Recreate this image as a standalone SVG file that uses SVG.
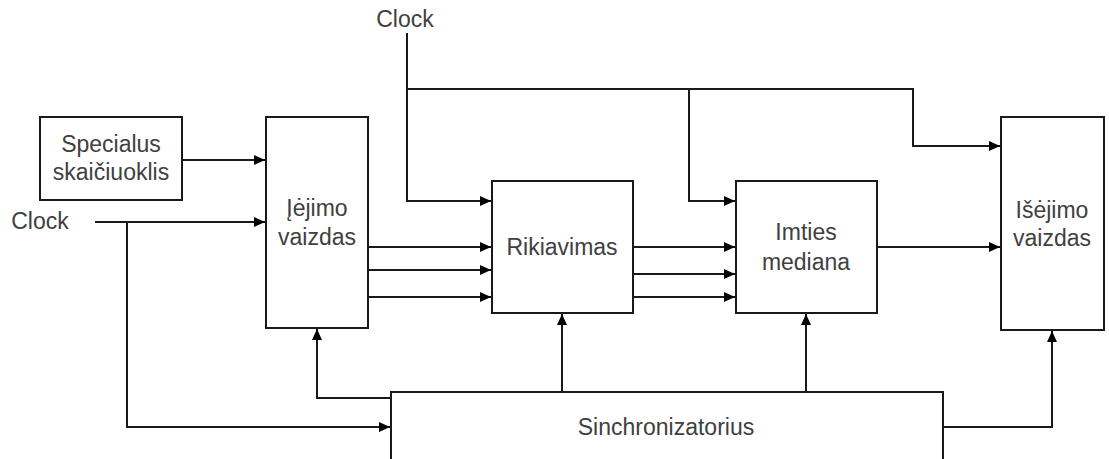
<svg xmlns="http://www.w3.org/2000/svg" width="1109" height="459" viewBox="0 0 1109 459">
  <style>
    .box { fill: #ffffff; stroke: #1a1a1a; stroke-width: 2; }
    .lbl { font-family: "Liberation Sans", Arial, sans-serif; font-size: 23px; fill: #404040; text-anchor: middle; }
    .wire { fill: none; stroke: #1a1a1a; stroke-width: 2; }
    .arr { marker-end: url(#head); }
  </style>
  <defs>
    <marker id="head" markerUnits="userSpaceOnUse" markerWidth="12" markerHeight="10" refX="11" refY="5" orient="auto">
      <path d="M0,0 L11,5 L0,10 Z" fill="#000"/>
    </marker>
  </defs>

  <rect width="1109" height="459" fill="#ffffff"/>

  <!-- connectors -->
  <g id="connectors">
    <path class="wire arr" d="M182,160 H265"/>
    <path class="wire arr" d="M95,222 H265"/>
    <path class="wire arr" d="M127,222 V427 H390"/>
    <path class="wire arr" d="M407,33 V201 H491"/>
    <path class="wire arr" d="M407,89 H913 V146 H1000"/>
    <path class="wire arr" d="M689,89 V201 H735"/>
    <path class="wire arr" d="M368,247 H491"/>
    <path class="wire arr" d="M368,270 H491"/>
    <path class="wire arr" d="M368,297 H491"/>
    <path class="wire arr" d="M633,247 H735"/>
    <path class="wire arr" d="M633,274 H735"/>
    <path class="wire arr" d="M633,297 H735"/>
    <path class="wire arr" d="M877,247 H1000"/>
    <path class="wire arr" d="M391,398 H317 V329"/>
    <path class="wire arr" d="M562,392 V314"/>
    <path class="wire arr" d="M806,392 V314"/>
    <path class="wire arr" d="M943,427 H1052 V331"/>
  </g>

  <!-- clock inputs -->
  <g id="clock-top">
    <text class="lbl" x="405" y="27">Clock</text>
  </g>
  <g id="clock-left">
    <text class="lbl" x="40" y="229">Clock</text>
  </g>

  <g id="specialus">
    <rect class="box" x="40" y="117" width="142" height="83"/>
    <text class="lbl" x="111" y="152">Specialus</text>
    <text class="lbl" x="111" y="180">skaičiuoklis</text>
  </g>

  <g id="iejimo">
    <rect class="box" x="266" y="117" width="102" height="211"/>
    <text class="lbl" x="317" y="216">Įėjimo</text>
    <text class="lbl" x="317" y="245">vaizdas</text>
  </g>

  <g id="rikiavimas">
    <rect class="box" x="492" y="181" width="141" height="132"/>
    <text class="lbl" x="562" y="255">Rikiavimas</text>
  </g>

  <g id="imties">
    <rect class="box" x="736" y="181" width="141" height="132"/>
    <text class="lbl" x="806" y="240">Imties</text>
    <text class="lbl" x="806" y="270">mediana</text>
  </g>

  <g id="isejimo">
    <rect class="box" x="1001" y="117" width="103" height="213"/>
    <text class="lbl" x="1052" y="218">Išėjimo</text>
    <text class="lbl" x="1052" y="246">vaizdas</text>
  </g>

  <g id="sinchronizatorius">
    <rect class="box" x="391" y="392" width="552" height="70"/>
    <text class="lbl" x="666" y="435">Sinchronizatorius</text>
  </g>
</svg>
